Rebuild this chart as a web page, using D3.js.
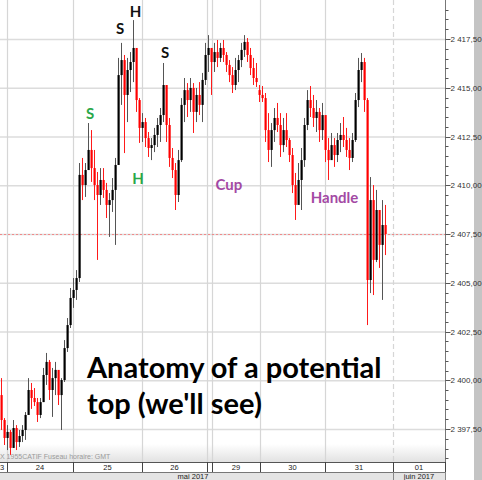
<!DOCTYPE html>
<html><head><meta charset="utf-8">
<script src="https://cdn.jsdelivr.net/npm/d3@7"></script>
<style>body{margin:0;background:#fff;} svg{display:block;}</style>
</head><body><svg id="c" width="482" height="480"></svg>
<script>
// ---- data (intraday candles) ----
const opens = [2399.24,2397.96,2397.04,2397.35,2396.53,2397.55,2396.83,2397.14,2397.45,2398.22,
2399.50,2399.09,2398.88,2398.22,2398.88,2400.27,2400.94,2399.50,2400.11,2400.53,
2399.24,2400.01,2401.65,2402.83,2404.22,2404.63,2405.24,2410.53,2410.01,2410.78,
2411.81,2410.88,2410.01,2409.50,2410.27,2409.76,2408.99,2409.24,2409.76,2411.04,
2415.65,2416.42,2414.63,2415.91,2416.32,2417.04,2414.37,2412.94,2413.24,2412.42,
2411.91,2412.06,2412.58,2413.09,2413.60,2415.14,2413.09,2411.40,2410.78,2409.50,
2411.29,2414.12,2414.88,2414.37,2414.99,2413.76,2414.63,2414.12,2415.40,2416.68,
2417.04,2416.32,2416.83,2416.53,2417.04,2416.68,2416.17,2415.65,2415.14,2415.91,
2416.42,2416.94,2417.35,2416.68,2416.01,2415.50,2414.88,2414.63,2414.47,2412.83,
2411.81,2412.83,2413.45,2413.09,2412.06,2412.83,2412.32,2411.55,2410.01,2408.99,
2410.27,2411.29,2413.09,2414.37,2413.96,2413.45,2413.76,2412.83,2413.60,2411.81,
2411.29,2412.06,2411.55,2412.32,2412.58,2412.32,2411.81,2411.40,2412.32,2414.37,
2415.91,2416.32,2414.37,2405.14,2409.24,2406.17,2408.73,2406.94,2407.96];
const highs = [2400.11,2398.06,2397.70,2397.45,2397.96,2397.70,2397.45,2397.70,2398.37,2400.11,
2399.86,2399.60,2399.09,2399.09,2400.63,2401.40,2401.04,2400.63,2400.94,2400.42,
2400.11,2402.06,2403.19,2404.73,2405.24,2405.65,2411.14,2411.40,2411.14,2413.19,
2412.83,2411.81,2410.68,2410.88,2410.88,2410.12,2409.60,2410.37,2411.40,2416.53,
2417.30,2416.68,2416.53,2416.83,2418.47,2416.68,2414.47,2413.70,2413.45,2412.73,
2412.42,2412.94,2413.45,2413.96,2416.27,2414.99,2413.45,2411.91,2411.14,2411.81,
2414.47,2415.50,2415.24,2415.50,2415.24,2414.99,2415.29,2415.76,2417.30,2417.70,
2417.04,2417.30,2417.45,2417.30,2417.45,2416.83,2416.42,2416.06,2416.53,2416.68,
2417.30,2417.70,2417.55,2417.04,2416.53,2416.27,2415.14,2415.09,2414.73,2413.70,
2413.19,2413.96,2414.22,2413.70,2413.45,2413.70,2412.42,2411.91,2410.63,2411.14,
2411.91,2413.45,2414.88,2415.09,2414.63,2414.37,2413.96,2414.22,2412.94,2412.42,
2412.68,2412.42,2412.68,2413.19,2413.50,2412.94,2412.42,2412.68,2414.73,2416.53,
2416.78,2416.53,2414.47,2410.42,2410.01,2409.76,2408.32,2409.24,2408.99];
const lows = [2397.45,2396.68,2396.42,2396.17,2396.53,2396.42,2396.58,2396.83,2396.94,2398.37,
2398.53,2398.68,2397.86,2398.06,2398.88,2399.76,2398.99,2398.12,2399.24,2398.73,
2397.45,2399.91,2401.45,2402.68,2403.71,2404.12,2405.04,2409.24,2409.40,2410.78,
2410.17,2409.24,2406.17,2408.99,2409.35,2408.32,2407.35,2408.63,2406.94,2411.04,
2414.12,2411.65,2413.24,2414.78,2415.29,2413.76,2412.17,2412.22,2411.96,2411.45,
2411.29,2411.70,2411.96,2412.22,2413.24,2412.22,2410.94,2410.37,2408.73,2409.14,
2411.19,2413.24,2413.50,2413.76,2412.68,2413.24,2413.60,2413.24,2415.14,2415.81,
2414.63,2415.81,2416.06,2416.32,2416.32,2415.81,2415.29,2414.73,2414.88,2415.29,
2416.06,2416.58,2416.32,2415.65,2415.14,2415.04,2414.27,2414.27,2412.22,2411.19,
2410.94,2412.22,2412.73,2411.45,2411.70,2411.96,2411.19,2409.60,2408.22,2409.09,
2408.73,2410.94,2412.83,2413.50,2412.99,2412.73,2412.22,2412.32,2411.19,2410.27,
2411.45,2410.94,2411.19,2411.70,2411.96,2411.45,2410.78,2411.19,2412.22,2414.01,
2415.29,2413.76,2402.83,2404.47,2404.37,2406.06,2405.76,2404.12,2406.42];
const closes = [2397.96,2397.04,2397.35,2396.53,2397.55,2396.83,2397.14,2397.45,2398.22,2399.50,
2399.09,2398.88,2398.22,2398.88,2400.27,2400.94,2399.50,2400.11,2400.53,2399.24,
2400.01,2401.65,2402.83,2404.22,2404.63,2405.24,2410.53,2410.01,2410.78,2411.81,
2410.88,2410.01,2409.50,2410.27,2409.76,2408.99,2409.24,2409.76,2411.04,2415.65,
2416.42,2414.63,2415.91,2416.32,2417.04,2414.37,2412.94,2413.24,2412.42,2411.91,
2412.06,2412.58,2413.09,2413.60,2415.14,2413.09,2411.40,2410.78,2409.50,2411.29,
2414.12,2414.88,2414.37,2414.99,2413.76,2414.63,2414.12,2415.40,2416.68,2417.04,
2416.32,2416.83,2416.53,2417.04,2416.68,2416.17,2415.65,2415.14,2415.91,2416.42,
2416.94,2417.35,2416.68,2416.01,2415.50,2415.29,2414.63,2414.47,2412.83,2411.81,
2412.83,2413.45,2413.09,2412.06,2412.83,2412.32,2411.55,2410.01,2408.99,2410.27,
2411.29,2413.09,2414.37,2413.96,2413.45,2413.76,2412.83,2413.60,2411.81,2411.29,
2412.06,2411.55,2412.32,2412.58,2412.32,2411.81,2411.40,2412.32,2414.37,2415.91,
2416.32,2414.37,2405.14,2409.24,2406.17,2408.73,2406.94,2407.96,2407.50];
const priceTicks = [2397.5,2400,2402.5,2405,2407.5,2410,2412.5,2415,2417.5];
const lastPrice = 2407.5;
const dayLabels = ["23","24","25","26","29","30","31","01"];
const dayStarts = [-2.33,2.33,24.33,47.33,70.67,86.67,108.33,131];
const dayEnds   = [2.33,24.33,47.33,69,86.67,108.33,131,148.33];
const monthLabels = ["mai 2017","juin 2017"];
const monthStarts = [-2.33,131];
const monthEnds = [131,148.33];
const annotations = [
  {t:"S", slot:30.0, p:2413.40, c:"#2aa84a"},
  {t:"S", slot:40.0, p:2417.76, c:"#111"},
  {t:"H", slot:45.2, p:2418.63, c:"#111"},
  {t:"S", slot:55.0, p:2416.53, c:"#111"},
  {t:"H", slot:46.0, p:2410.06, c:"#2aa84a"},
  {t:"Cup", slot:76.3, p:2409.76, c:"#a349a4"},
  {t:"Handle", slot:111.5, p:2409.09, c:"#a349a4"}
];
const title1 = "Anatomy of a potential";
const title2 = "top (we'll see)";

// ---- chart ----
const W = 482, H = 480, plotR = 445, plotB = 462;
const svg = d3.select("#c");
const x = d3.scaleLinear().domain([0,148.33]).range([0,plotR]);
const y = d3.scaleLinear().domain([2417.5,2397.5]).range([39,429]);
const fr = d3.formatLocale({decimal:",",thousands:"\u00a0",grouping:[3],currency:["",""]});
const fmt = fr.format(",.2f");

// bottom gradient
const defs = svg.append("defs");
const lg = defs.append("linearGradient").attr("id","bg").attr("x1",0).attr("y1",0).attr("x2",0).attr("y2",1);
lg.append("stop").attr("offset","0%").attr("stop-color","#ffffff");
lg.append("stop").attr("offset","100%").attr("stop-color","#e2e2e2");
svg.append("rect").attr("x",0).attr("y",444).attr("width",plotR).attr("height",plotB-444).attr("fill","url(#bg)");

// horizontal grid
svg.append("g").selectAll("line").data(priceTicks).join("line")
  .attr("x1",0).attr("x2",plotR).attr("y1",d=>y(d)+0.5).attr("y2",d=>y(d)+0.5)
  .attr("stroke","#dcdcdc").attr("stroke-width",1.3);
// vertical day separators
const seps = dayStarts.slice(1);
svg.append("g").selectAll("line").data(seps.concat([69])).join("line")
  .attr("x1",d=>Math.round(x(d))+0.5).attr("x2",d=>Math.round(x(d))+0.5)
  .attr("y1",0).attr("y2",plotB)
  .attr("stroke","#d6d6d6").attr("stroke-width",1.2)
  .attr("stroke-dasharray",d=>d===131?"5,3":null);
// last price dotted line
svg.append("line").attr("x1",0).attr("x2",plotR).attr("y1",y(lastPrice)+0.5).attr("y2",y(lastPrice)+0.5)
  .attr("stroke","#f08a8a").attr("stroke-width",1).attr("stroke-dasharray","2,2");

// candles
const candles = closes.map((c,i)=>({i,o:opens[i],h:highs[i],l:lows[i],c}));
const cg = svg.append("g");
cg.selectAll("line").data(candles).join("line")
  .attr("x1",d=>x(d.i+0.5)).attr("x2",d=>x(d.i+0.5))
  .attr("y1",d=>y(d.h)).attr("y2",d=>y(d.l))
  .attr("stroke",d=>d.c>=d.o?"#555":"#ff1a1a").attr("stroke-width",1);
cg.selectAll("rect").data(candles).join("rect")
  .attr("x",d=>x(d.i+0.5)-1).attr("width",2.2)
  .attr("y",d=>y(Math.max(d.o,d.c)))
  .attr("height",d=>Math.max(1,Math.abs(y(d.o)-y(d.c))))
  .attr("fill",d=>d.c>=d.o?"#000":"#ff0000");

// annotations
svg.append("g").selectAll("text").data(annotations).join("text")
  .attr("x",d=>x(d.slot)).attr("y",d=>y(d.p))
  .attr("text-anchor","middle")
  .attr("font-family","Lato, 'Open Sans', sans-serif").attr("font-weight","bold")
  .attr("font-size",15).attr("fill",d=>d.c).text(d=>d.t);

// big title
const tg = svg.append("g").attr("font-family","Lato, 'Open Sans', sans-serif")
  .attr("font-weight","bold").attr("font-size",29).attr("fill","#000");
tg.append("text").attr("x",87).attr("y",378).text(title1);
tg.append("text").attr("x",87).attr("y",414).text(title2);

// small info text
svg.append("text").attr("x",0).attr("y",459).attr("font-family","Liberation Sans, Arial, sans-serif")
  .attr("font-size",7).attr("fill","#9a9a9a").text("X 1955CATIF    Fuseau horaire: GMT");

// right axis
svg.append("rect").attr("x",474).attr("y",0).attr("width",W-474).attr("height",H).attr("fill","#c4c4c4");
const ax = svg.append("g").attr("transform",`translate(${plotR+0.5},0)`);
ax.append("line").attr("x1",0).attr("x2",0).attr("y1",0).attr("y2",plotB).attr("stroke","#777");
const minor = d3.range(2396,2419.01,0.5);
ax.selectAll("line.m").data(minor).join("line").attr("class","m")
  .attr("x1",0).attr("x2",d=>(Math.abs(d/2.5-Math.round(d/2.5))<1e-6)?5:3)
  .attr("y1",d=>Math.round(y(d))+0.5).attr("y2",d=>Math.round(y(d))+0.5)
  .attr("stroke","#555");
ax.selectAll("text").data(priceTicks).join("text")
  .attr("x",5).attr("y",d=>y(d)+3)
  .attr("font-family","Liberation Sans, Arial, sans-serif").attr("font-size",8)
  .attr("fill","#333").text(d=>fmt(d));

// bottom date axis
const bg = svg.append("g");
bg.append("rect").attr("x",0).attr("y",472).attr("width",plotR).attr("height",8).attr("fill","#e4e4e4");
bg.append("rect").attr("x",0).attr("y",plotB).attr("width",plotR).attr("height",10).attr("fill","#fff");
bg.append("line").attr("x1",0).attr("x2",plotR+1).attr("y1",plotB+0.5).attr("y2",plotB+0.5).attr("stroke","#555");
bg.append("line").attr("x1",0).attr("x2",plotR+1).attr("y1",472.5).attr("y2",472.5).attr("stroke","#777");
bg.selectAll("line.d").data(dayStarts.slice(1).concat([69,148.33])).join("line").attr("class","d")
  .attr("x1",d=>Math.round(x(d))+0.5).attr("x2",d=>Math.round(x(d))+0.5)
  .attr("y1",plotB).attr("y2",472).attr("stroke","#444");
bg.selectAll("line.mo").data([131,148.33]).join("line").attr("class","mo")
  .attr("x1",d=>Math.round(x(d))+0.5).attr("x2",d=>Math.round(x(d))+0.5)
  .attr("y1",472).attr("y2",480).attr("stroke","#888");
bg.selectAll("text.d").data(dayLabels).join("text").attr("class","d")
  .attr("x",(d,i)=>x((dayStarts[i]+dayEnds[i])/2)).attr("y",470)
  .attr("text-anchor","middle").attr("font-family","Liberation Sans, Arial, sans-serif")
  .attr("font-size",7.5).attr("fill","#222").text(d=>d);
bg.selectAll("text.mo").data(monthLabels).join("text").attr("class","mo")
  .attr("x",(d,i)=>x((monthStarts[i]+monthEnds[i])/2)).attr("y",478.5)
  .attr("text-anchor","middle").attr("font-family","Liberation Sans, Arial, sans-serif")
  .attr("font-size",7.5).attr("fill","#222").text(d=>d);
</script></body></html>
